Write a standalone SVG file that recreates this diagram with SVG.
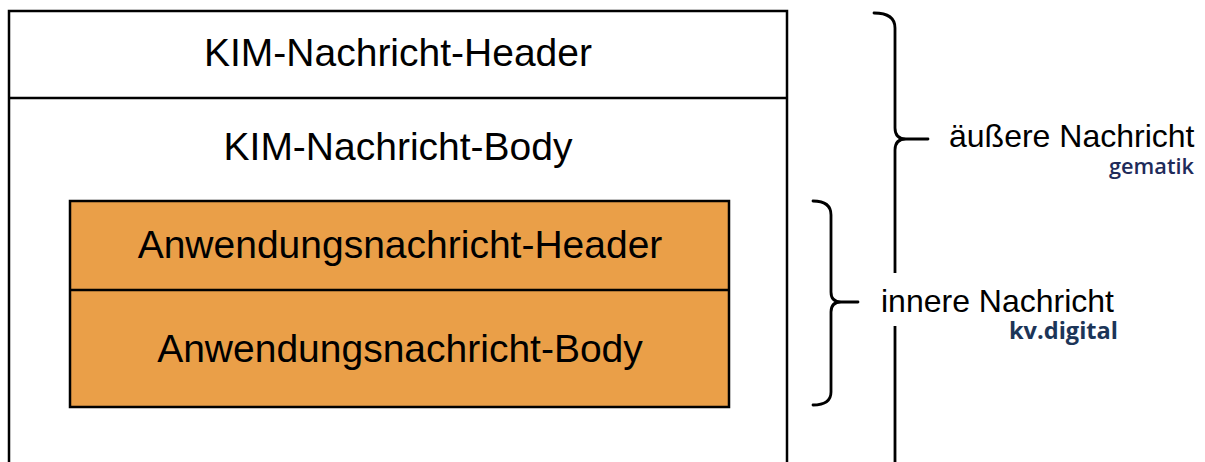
<svg xmlns="http://www.w3.org/2000/svg" width="1205" height="462" viewBox="0 0 1205 462">
<style>
.box{fill:#ffffff;stroke:#000;stroke-width:2.5}
.obox{fill:#EA9F48;stroke:#000;stroke-width:2.5}
.div{stroke:#000;stroke-width:2.5;fill:none}
.t{font-family:"Liberation Sans",Arial,sans-serif;fill:#000;text-anchor:middle;font-size:39px}
.lbl{font-family:"Liberation Sans",Arial,sans-serif;fill:#000;font-size:32px}
.br{fill:none;stroke:#000;stroke-width:2.8;stroke-linecap:round}
</style>
<rect width="1205" height="462" fill="#ffffff"/>
<g id="kim-message">
<rect class="box" x="9" y="11" width="778" height="470"/>
<line class="div" x1="9" y1="98" x2="787" y2="98"/>
<text class="t" x="398" y="66">KIM-Nachricht-Header</text>
<text class="t" x="398" y="160">KIM-Nachricht-Body</text>
</g>
<g id="app-message">
<rect class="obox" x="70" y="201" width="659" height="206"/>
<line class="div" x1="70" y1="290" x2="729" y2="290"/>
<text class="t" x="400" y="258">Anwendungsnachricht-Header</text>
<text class="t" x="400" y="362">Anwendungsnachricht-Body</text>
</g>
<g id="connectors">
<path class="br" d="M874,13 Q895,13 895,28 L895,128 Q895,139 906,139 L928,139 M906,139 Q895,139 895,150 L895,470"/>
<path class="br" d="M813,201 Q831,201 831,215 L831,292 Q831,302 841,302 L858,302 M841,302 Q831,302 831,312 L831,392 Q831,405 813,405"/>
</g>
<g id="label-outer">
<text class="lbl" x="949" y="147">äußere Nachricht</text>
<text x="1109" y="174" font-family="'Open Sans','Noto Sans',sans-serif" font-weight="600" font-size="22" fill="#1E2B5A" textLength="85" lengthAdjust="spacingAndGlyphs">gematik</text>
</g>
<g id="label-inner">
<rect x="876" y="273" width="246" height="53" fill="#ffffff"/>
<text class="lbl" x="881" y="312">innere Nachricht</text>
<text x="1009" y="339" font-family="'Open Sans','Noto Sans',sans-serif" font-weight="bold" font-size="23" fill="#1C3558" textLength="109" lengthAdjust="spacingAndGlyphs">kv.digital</text>
</g>
</svg>
